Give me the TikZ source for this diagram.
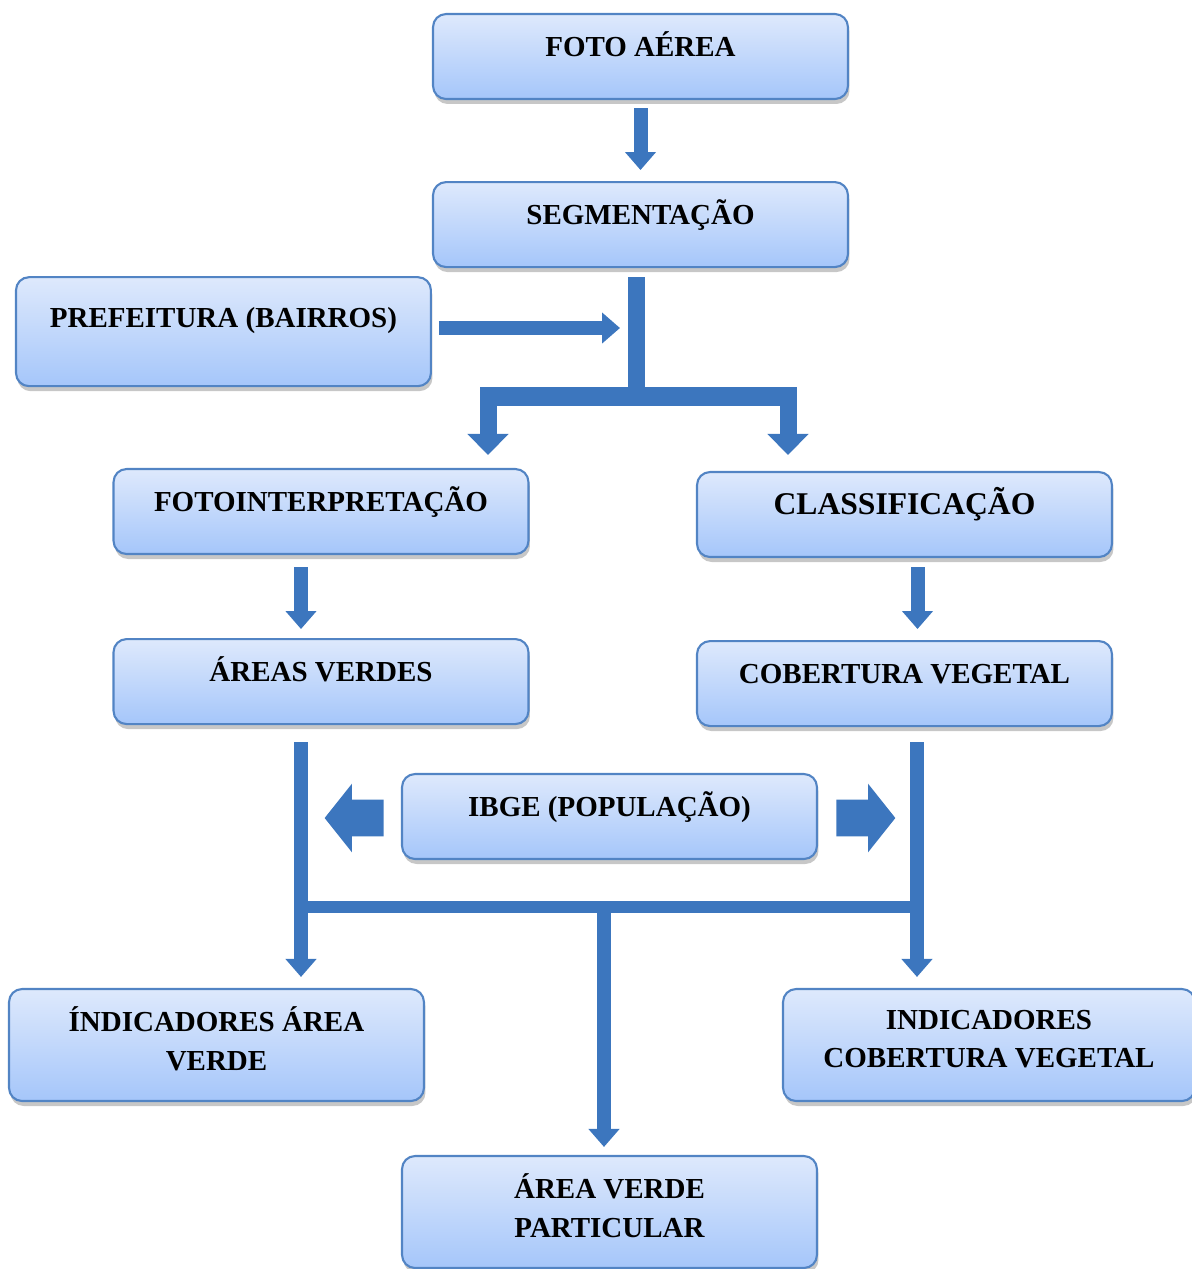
\documentclass[tikz,border=0pt]{standalone}
\usepackage{fontspec}
\setmainfont{Liberation Serif}
\usetikzlibrary{arrows.meta, positioning, shadows, shapes.arrows}
\definecolor{boxtop}{RGB}{222,233,252}
\definecolor{boxbot}{RGB}{165,198,250}
\definecolor{boxedge}{RGB}{82,132,196}
\definecolor{flowblue}{RGB}{60,118,190}

\begin{document}
\begin{tikzpicture}[
    x=0.02cm, y=-0.02cm,
    box/.style={rectangle, draw=boxedge, line width=1.2pt, top color=boxtop, bottom color=boxbot, rounded corners=0.26cm, minimum width=8.3cm, minimum height=1.7cm, align=center, inner sep=0pt, font=\bfseries\fontsize{16.5}{22}\selectfont, drop shadow={shadow xshift=0.03cm, shadow yshift=-0.1cm, opacity=0.22, fill=black}},
    onel/.style={text height=0.36cm, text depth=0.36cm},
    tall/.style={minimum height=2.24cm, text depth=0.25cm},
    flow/.style={-{Triangle[length=0.36cm, width=0.6cm]}, line width=0.28cm, draw=flowblue},
    trunk/.style={line width=0.34cm, draw=flowblue},
    branch/.style={-{Triangle[length=0.42cm, width=0.8cm]}, line width=0.34cm, draw=flowblue},
    fatarrow/.style={single arrow, fill=flowblue, draw=none, minimum height=1.18cm, minimum width=1.36cm, single arrow head extend=0.32cm, single arrow tip angle=103, inner xsep=0pt, inner ysep=0.36cm}
]
    \useasboundingbox (0,0) rectangle (1192,1269);

    \node (foto) [box, onel] at (640.5,56.5) {FOTO AÉREA};
    \node (seg) [box, onel, below=1.62cm of foto] {SEGMENTAÇÃO};
    \node (pref) [box, onel, text depth=0.52cm, minimum height=2.18cm, below left=0.16cm and 0cm of seg] {PREFEITURA (BAIRROS)};
    \node (fotoi) [box, onel] at (321,511.5) {FOTOINTERPRETAÇÃO};
    \node (class) [box, onel, font=\bfseries\fontsize{18}{22}\selectfont] at (904.5,514.5) {CLASSIFICAÇÃO};
    \node (areas) [box, onel, below=1.66cm of fotoi] {ÁREAS VERDES};
    \node (cob) [box, onel, below=1.64cm of class] {COBERTURA VEGETAL};
    \node (ibge) [box, onel] at (609.5,816.5) {IBGE (POPULAÇÃO)};
    \node (inda) [box, tall] at (216.5,1045) {ÍNDICADORES ÁREA\\VERDE};
    \node (indc) [box, tall, minimum width=8.24cm] at (989,1045) {INDICADORES\\COBERTURA VEGETAL};
    \node (avp) [box, tall] at (609.5,1212) {ÁREA VERDE\\PARTICULAR};

    \node (ibgel) [fatarrow, shape border rotate=180, anchor=tail] at ([xshift=-0.34cm, yshift=-0.03cm]ibge.west) {};
    \node (ibger) [fatarrow, anchor=tail] at ([xshift=0.36cm, yshift=-0.03cm]ibge.east) {};

    \coordinate (j1) at (636,396);
    \coordinate (pj) at (628,328);
    \coordinate (bl) at (488,396);
    \coordinate (br) at (788,396);
    \coordinate (lv) at (301,907);
    \coordinate (rv) at (917,907);
    \coordinate (mv) at (604,907);

    \draw[flow, shorten <=0.16cm, shorten >=0.22cm] (foto) -- (seg);
    \draw[trunk, shorten <=0.18cm] (seg.south -| j1) -- ([yshift=-0.18cm]j1);
    \draw[flow, shorten <=0.14cm, shorten >=0.16cm] (pref.east |- pj) -- (pj);
    \draw[line width=0.38cm, draw=flowblue] ([xshift=-0.16cm]bl) -- ([xshift=0.18cm]br);
    \draw[branch, shorten >=0.26cm] (bl) -- (fotoi.north -| bl);
    \draw[branch, shorten >=0.32cm] (br) -- (class.north -| br);
    \draw[flow, shorten <=0.24cm, shorten >=0.18cm] ([xshift=-0.4cm]fotoi.south) -- ([xshift=-0.4cm]areas.north);
    \draw[flow, shorten <=0.18cm, shorten >=0.22cm] ([xshift=0.26cm]class.south) -- ([xshift=0.26cm]cob.north);
    \draw[flow, shorten <=0.34cm, shorten >=0.22cm] (areas.south -| lv) -- (inda.north -| lv);
    \draw[flow, shorten <=0.3cm, shorten >=0.22cm] (cob.south -| rv) -- (indc.north -| rv);
    \draw[line width=0.24cm, draw=flowblue] (lv) -- (rv);
    \draw[flow, shorten <=-0.1cm, shorten >=0.16cm] (mv) -- (avp.north -| mv);
\end{tikzpicture}
\end{document}
